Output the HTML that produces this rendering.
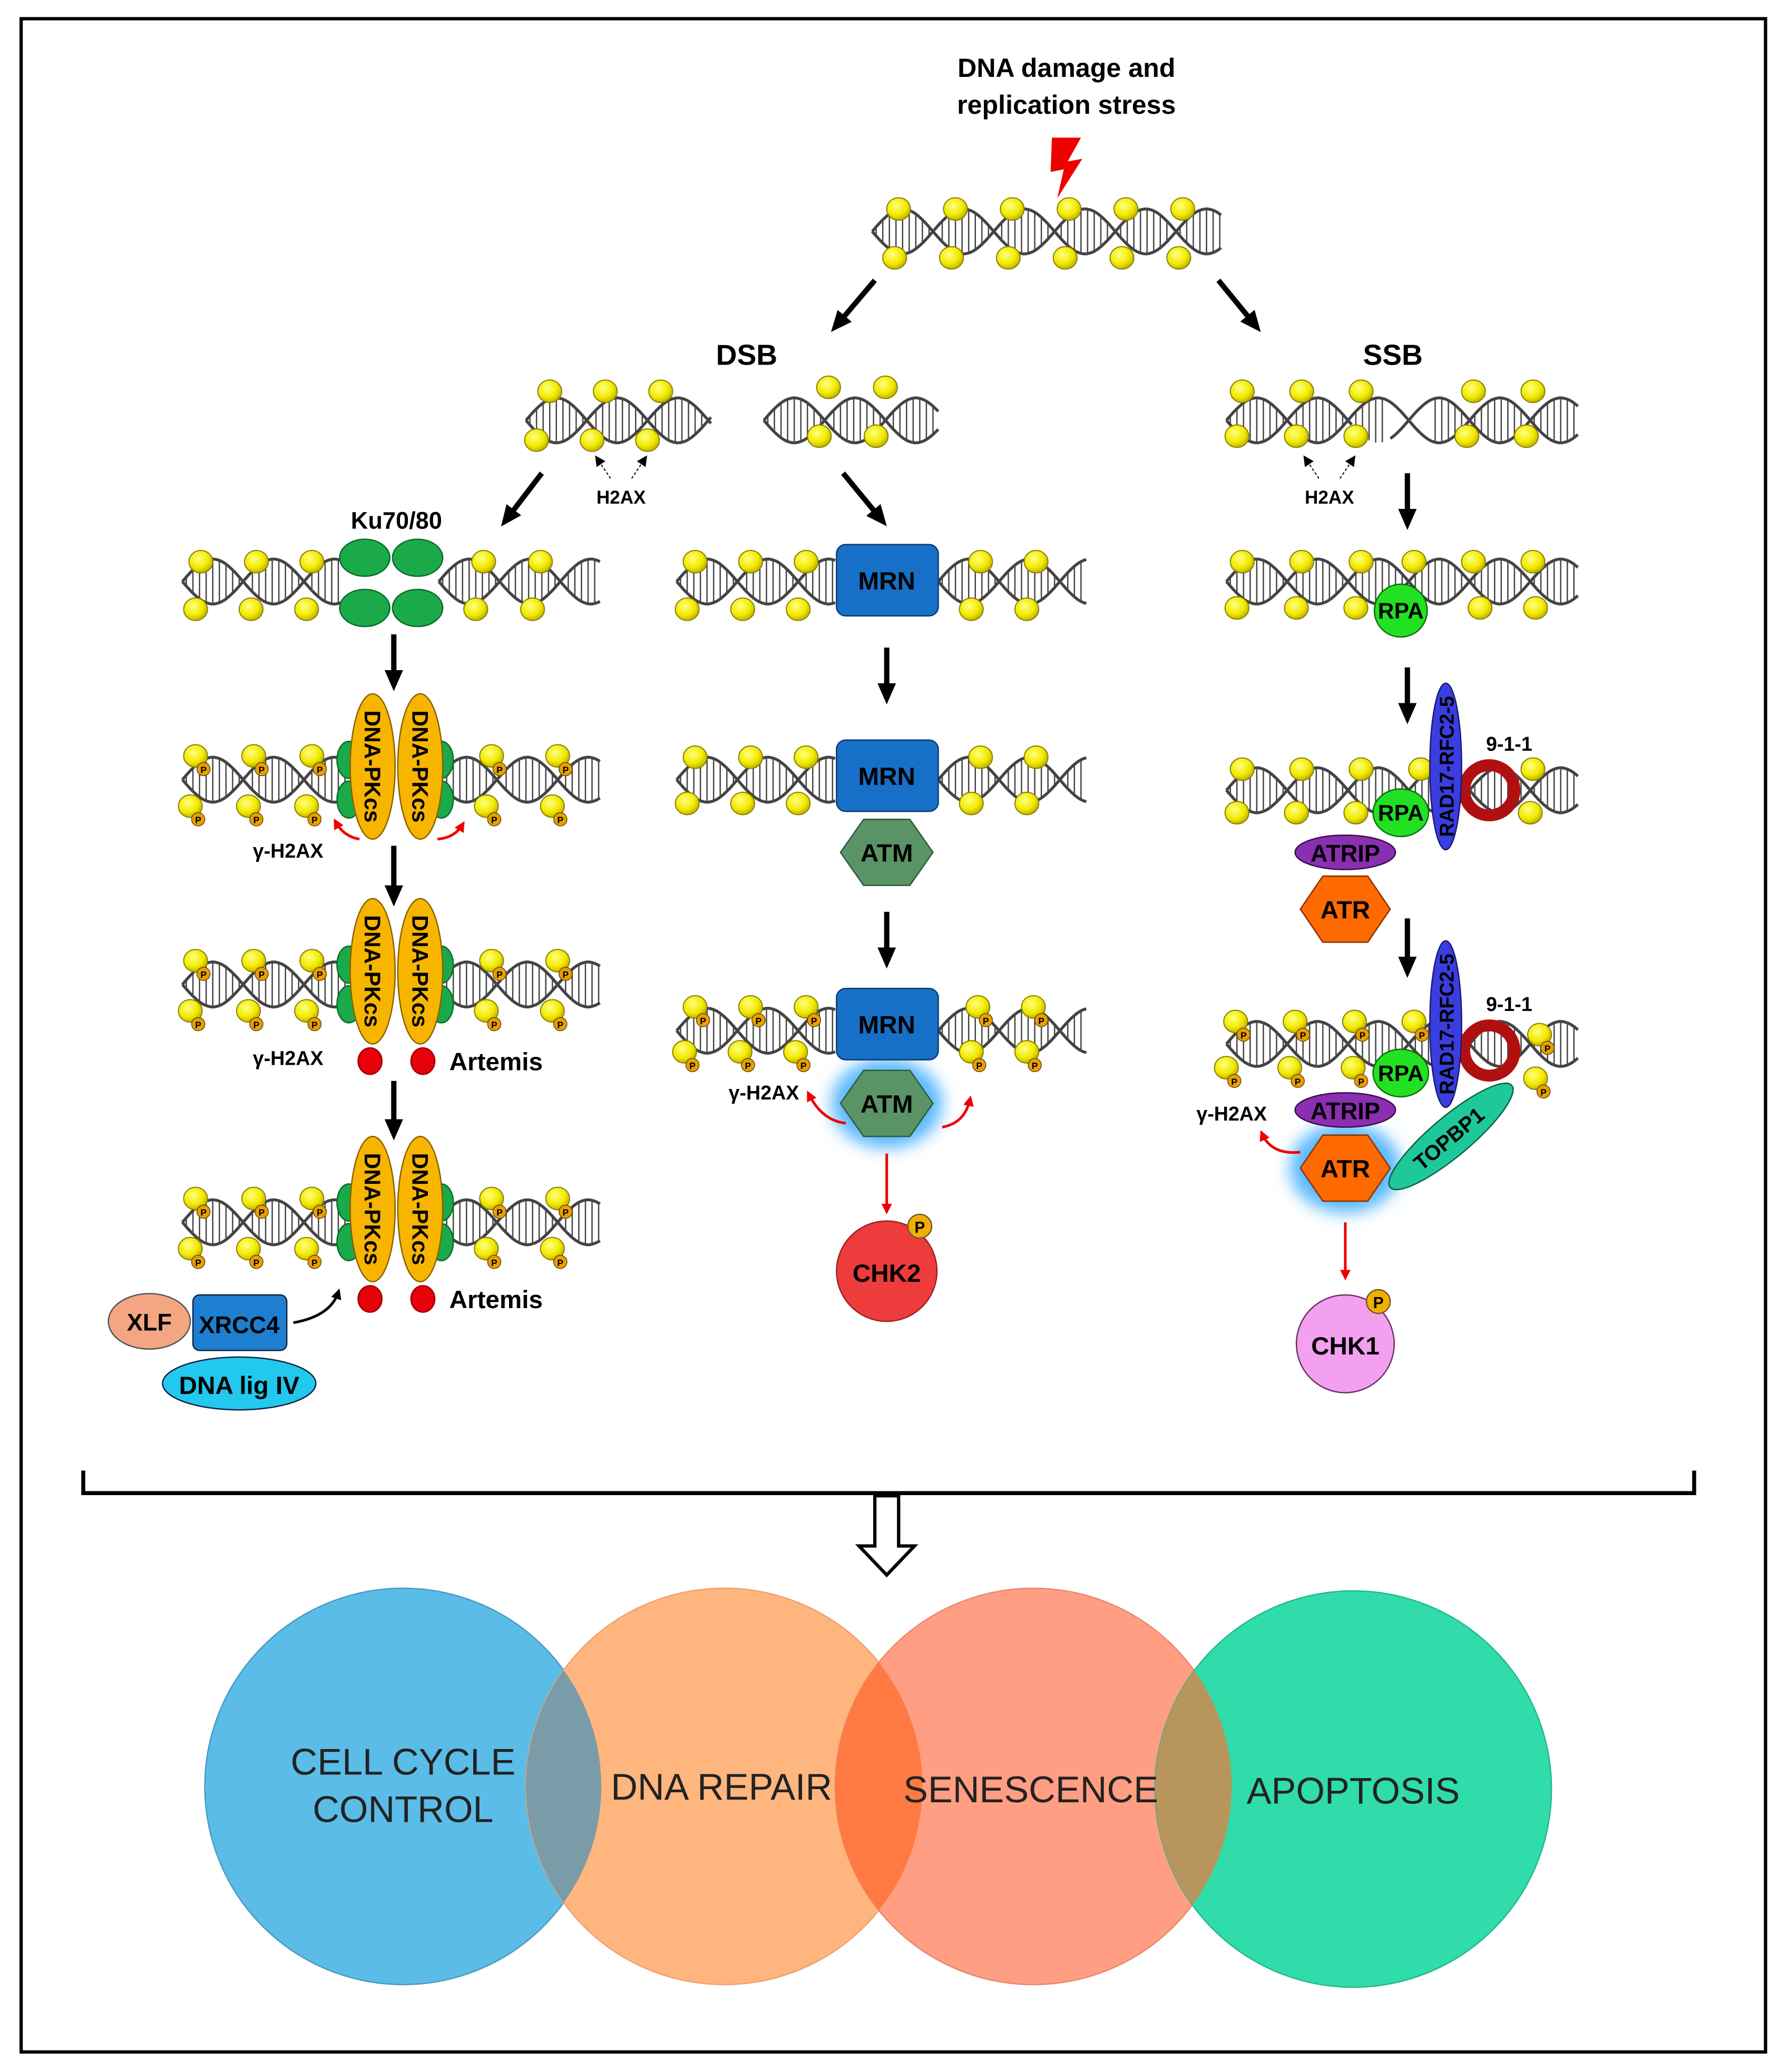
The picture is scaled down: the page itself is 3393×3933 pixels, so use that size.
<!DOCTYPE html>
<html><head><meta charset="utf-8"><style>
html,body{margin:0;padding:0;background:#fff}
svg{display:block}
text{font-family:"Liberation Sans",sans-serif}
.b{font-weight:bold}
</style></head><body>
<svg id="s" xmlns="http://www.w3.org/2000/svg" width="3393" height="3933" viewBox="0 0 1353 1568">
<defs>
<radialGradient id="yb" cx="0.4" cy="0.35" r="0.7"><stop offset="0" stop-color="#ffff80"/><stop offset="0.6" stop-color="#f2ea00"/><stop offset="1" stop-color="#b8a800"/></radialGradient>
<filter id="glow" x="-50%" y="-50%" width="200%" height="200%"><feGaussianBlur stdDeviation="6"/></filter>
<marker id="ab" markerWidth="8" markerHeight="8" refX="5" refY="4" orient="auto" markerUnits="userSpaceOnUse"><path d="M0,0 L8,4 L0,8 z" fill="#000"/></marker>
<marker id="ar" markerWidth="8" markerHeight="8" refX="5" refY="4" orient="auto" markerUnits="userSpaceOnUse"><path d="M0,0 L8,4 L0,8 z" fill="#e00"/></marker>
<marker id="abig" markerWidth="16" markerHeight="16" refX="8" refY="8" orient="auto" markerUnits="userSpaceOnUse"><path d="M0,1 L16,8 L0,15 z" fill="#000"/></marker>
<clipPath id="c1"><circle cx="305" cy="1352" r="150"/></clipPath>
<clipPath id="c2"><circle cx="548" cy="1352" r="150"/></clipPath>
<clipPath id="c3"><circle cx="782" cy="1352" r="150"/></clipPath>
</defs>
<rect x="16" y="14" width="1320" height="1539" fill="none" stroke="#000" stroke-width="2.5"/>
<g id="dna"></g>

<text x="807" y="58" text-anchor="middle" class="b" font-size="20">DNA damage and</text>
<text x="807" y="86" text-anchor="middle" class="b" font-size="20">replication stress</text>
<path d="M796,104 L818,104 L808,122 L819,120 L800,150 L805,128 L795,130 z" fill="#e00"/>

<g stroke="#000" stroke-width="4" marker-end="url(#abig)" fill="none">
<line x1="662" y1="212" x2="634" y2="245"/>
<line x1="922" y1="212" x2="949" y2="245"/>
<line x1="410" y1="358" x2="384" y2="392"/>
<line x1="638" y1="358" x2="666" y2="392"/>
<line x1="1065" y1="358" x2="1065" y2="393"/>
<line x1="298" y1="480" x2="298" y2="515"/>
<line x1="671" y1="490" x2="671" y2="525"/>
<line x1="1065" y1="505" x2="1065" y2="540"/>
<line x1="298" y1="640" x2="298" y2="678"/>
<line x1="671" y1="690" x2="671" y2="725"/>
<line x1="1065" y1="695" x2="1065" y2="732"/>
<line x1="298" y1="818" x2="298" y2="855"/>
</g>
<text x="565" y="276" text-anchor="middle" class="b" font-size="22">DSB</text>
<text x="1054" y="276" text-anchor="middle" class="b" font-size="22">SSB</text>
<text x="470" y="381" text-anchor="middle" class="b" font-size="14">H2AX</text>
<text x="1006" y="381" text-anchor="middle" class="b" font-size="14">H2AX</text>
<g stroke="#000" stroke-width="0.8" stroke-dasharray="2,1.5" marker-end="url(#ab)">
<line x1="462" y1="362" x2="452" y2="347"/><line x1="478" y1="362" x2="488" y2="347"/>
<line x1="998" y1="362" x2="988" y2="347"/><line x1="1014" y1="362" x2="1024" y2="347"/>
</g>

<!-- Ku -->
<text x="300" y="400" text-anchor="middle" class="b" font-size="18">Ku70/80</text>
<g fill="#1aaa4a" stroke="#0b6b2a" stroke-width="1">
<ellipse cx="276" cy="422" rx="19" ry="14"/><ellipse cx="316" cy="422" rx="19" ry="14"/>
<ellipse cx="276" cy="460" rx="19" ry="14"/><ellipse cx="316" cy="460" rx="19" ry="14"/>
</g>

<!-- DNA-PKcs rows -->
<g id="pk"></g>
<text x="218" y="649" text-anchor="middle" class="b" font-size="15">γ-H2AX</text>
<g fill="none" stroke="#e00" stroke-width="2" marker-end="url(#ar)">
<path d="M272,635 Q260,633 254,622"/><path d="M331,635 Q344,634 350,624"/>
</g>
<text x="218" y="806" text-anchor="middle" class="b" font-size="15">γ-H2AX</text>
<g fill="#e8000a" stroke="#900" stroke-width="1">
<ellipse cx="280" cy="803" rx="9" ry="10"/><ellipse cx="320" cy="803" rx="9" ry="10"/>
<ellipse cx="280" cy="983" rx="9" ry="10"/><ellipse cx="320" cy="983" rx="9" ry="10"/>
</g>
<text x="340" y="810" class="b" font-size="19">Artemis</text>
<text x="340" y="990" class="b" font-size="19">Artemis</text>
<ellipse cx="113" cy="1000" rx="31" ry="21" fill="#f4a582" stroke="#555"/>
<text x="113" y="1007" text-anchor="middle" class="b" font-size="18">XLF</text>
<rect x="146" y="980" width="71" height="42" rx="5" fill="#1e7fd0" stroke="#124"/>
<ellipse cx="181" cy="1047" rx="58" ry="20" fill="#22c8ee" stroke="#124"/>
<text x="181" y="1009" text-anchor="middle" class="b" font-size="18">XRCC4</text>
<text x="181" y="1055" text-anchor="middle" class="b" font-size="19">DNA lig IV</text>
<path d="M222,1001 Q250,996 256,978" fill="none" stroke="#000" stroke-width="2" marker-end="url(#ab)"/>

<!-- MRN -->
<g id="mrn"></g>
<text x="578" y="832" text-anchor="middle" class="b" font-size="15">γ-H2AX</text>
<g fill="none" stroke="#e00" stroke-width="2" marker-end="url(#ar)">
<path d="M640,850 Q622,848 612,828"/><path d="M713,853 Q730,850 734,832"/>
<line x1="671" y1="873" x2="671" y2="916"/>
<path d="M984,872 Q962,874 955,858"/>
<line x1="1018" y1="925" x2="1018" y2="966"/>
</g>
<circle cx="671" cy="962" r="38" fill="#ee3b3b" stroke="#922"/>
<text x="671" y="970" text-anchor="middle" class="b" font-size="19">CHK2</text>
<circle cx="696" cy="928" r="9" fill="#f0b000" stroke="#753"/><text x="696" y="933" text-anchor="middle" class="b" font-size="12">P</text>
<circle cx="1018" cy="1017" r="37" fill="#f4a0f0" stroke="#636"/>
<text x="1018" y="1025" text-anchor="middle" class="b" font-size="19">CHK1</text>
<circle cx="1043" cy="985" r="9" fill="#f0b000" stroke="#753"/><text x="1043" y="990" text-anchor="middle" class="b" font-size="12">P</text>

<!-- SSB proteins -->
<g id="ssb"></g>
<text x="932" y="848" text-anchor="middle" class="b" font-size="15">γ-H2AX</text>

<!-- bracket -->
<path d="M63,1113 L63,1130 L1282,1130 L1282,1113" fill="none" stroke="#000" stroke-width="3"/>
<path d="M662,1132 L680,1132 L680,1170 L692,1170 L671,1192 L650,1170 L662,1170 z" fill="#fff" stroke="#000" stroke-width="2.5"/>

<!-- Venn -->
<circle cx="305" cy="1352" r="150" fill="#5bbce8" stroke="#4a9ac0"/>
<circle cx="548" cy="1352" r="150" fill="#ffb57e" stroke="#f0a070"/>
<circle cx="782" cy="1352" r="150" fill="#ff9e82" stroke="#e88870"/>
<circle cx="1024" cy="1354" r="150" fill="#2fdcaa" stroke="#22b890"/>
<circle cx="548" cy="1352" r="150" fill="#7a9ba8" clip-path="url(#c1)"/>
<circle cx="782" cy="1352" r="150" fill="#ff7a42" clip-path="url(#c2)"/>
<circle cx="1024" cy="1354" r="150" fill="#b8955c" clip-path="url(#c3)"/>
<g font-size="28" fill="#222" text-anchor="middle">
<text x="305" y="1343">CELL CYCLE</text><text x="305" y="1379">CONTROL</text>
<text x="546" y="1362">DNA REPAIR</text>
<text x="780" y="1364">SENESCENCE</text>
<text x="1024" y="1365">APOPTOSIS</text>
</g>
</svg>
<script>
var NS="http://www.w3.org/2000/svg";
function el(p,t,a,txt){var e=document.createElementNS(NS,t);for(var k in a)e.setAttribute(k,a[k]);if(txt)e.textContent=txt;p.appendChild(e);return e;}
var D=document.getElementById('dna');
function dna(x1,x2,y,ph,skip){
  var A=17,P=92,g=el(D,'g',{});
  var d1='',d2='';
  for(var x=x1;x<=x2;x+=2){var s=Math.sin(2*Math.PI*(x-x1)/P);d1+=(x==x1?'M':'L')+x+','+(y-A*s).toFixed(1);d2+=(x==x1?'M':'L')+x+','+(y+A*s).toFixed(1);}
  for(var x=x1+3;x<x2;x+=5){var s=Math.sin(2*Math.PI*(x-x1)/P);if(Math.abs(s)<0.2)continue;if(skip&&x>skip[0]&&x<skip[1])continue;el(g,'line',{x1:x,y1:y-A*s,x2:x,y2:y+A*s,stroke:'#444','stroke-width':1});}
  el(g,'path',{d:d1,fill:'none',stroke:'#444','stroke-width':2.2});
  if(!skip)el(g,'path',{d:d2,fill:'none',stroke:'#444','stroke-width':2.2});
  else{el(g,'path',{d:d2,fill:'none',stroke:'#444','stroke-width':2.2,'stroke-dasharray':(skip[0]-x1)+','+(skip[1]-skip[0])+',999'});}
  return g;
}
function balls(list,ph){list.forEach(function(b){el(D,'ellipse',{cx:b[0],cy:b[1],rx:9,ry:8.5,fill:'url(#yb)',stroke:'#8a8000','stroke-width':0.8});if(ph){el(D,'circle',{cx:b[0]+6,cy:b[1]+10,r:5,fill:'#e8a000',stroke:'#640','stroke-width':0.6});el(D,'text',{x:b[0]+6,y:b[1]+13,'text-anchor':'middle','font-size':7,'font-weight':'bold'},'P');}});}
function row(x0,n,step,y,dy,ph){var r=[];for(var i=0;i<n;i++)r.push([x0+i*step,y]);balls(r,ph);}
// top
dna(660,925,175);row(680,6,43,158,0);row(677,6,43,195,0);
// DSB pieces
dna(398,538,318);row(416,3,42,296);row(406,3,42,333);
dna(578,710,318);row(627,2,43,293);row(620,2,43,330);
dna(928,1195,318,0,[1050,1085]);row(940,3,45,296);row(936,3,45,330);row(1115,2,45,296);row(1110,2,45,330);
// row1
dna(138,260,440);dna(332,455,440);row(152,3,42,425);row(148,3,42,461);row(366,2,43,425);row(360,2,43,461);
dna(512,632,440);dna(710,822,440);row(526,3,42,425);row(520,3,42,461);row(742,2,42,425);row(735,2,42,461);
dna(928,1195,440);row(940,3,45,425);row(936,3,45,460);row(1070,3,45,425);row(1120,2,42,460);
// row2 left (phos)
[590,745,925].forEach(function(y){dna(138,262,y);dna(330,455,y);row(148,3,44,y-18,0,1);row(144,3,44,y+20,0,1);row(372,2,50,y-18,0,1);row(368,2,50,y+20,0,1);});
// mid row2, row3
dna(512,632,590);dna(710,822,590);row(526,3,42,573);row(520,3,42,608);row(742,2,42,573);row(735,2,42,608);
dna(512,632,780);dna(710,822,780);row(526,3,42,762,0,1);row(518,3,42,796,0,1);row(740,2,42,762,0,1);row(735,2,42,796,0,1);
// right row2 row3
dna(928,1195,598);row(940,4,45,582);row(936,3,45,615);row(1160,1,0,582);row(1158,1,0,615);
dna(928,1195,790);row(935,4,45,773,0,1);row(928,3,48,808,0,1);row(1165,1,0,783,0,1);row(1162,1,0,816,0,1);

// DNA-PKcs
var PK=document.getElementById('pk');
[580,735,915].forEach(function(cy){
  [[264,cy-5],[264,cy+25],[334,cy-5],[334,cy+25]].forEach(function(c){el(PK,'ellipse',{cx:c[0],cy:c[1],rx:9,ry:14,fill:'#1aaa4a',stroke:'#0b6b2a'});});
  [282,318].forEach(function(cx){el(PK,'ellipse',{cx:cx,cy:cy,rx:17,ry:55,fill:'#f7b500',stroke:'#8a6000'});
   el(PK,'text',{x:0,y:0,transform:'translate('+(cx-6)+','+(cy)+') rotate(90)','text-anchor':'middle','font-size':17,'font-weight':'bold'},'DNA-PKcs');});
});
// MRN/ATM
var M=document.getElementById('mrn');
function hex(p,cx,cy,w,h,fill,stroke){var a=w/2,q=w/4,b=h/2;el(p,'polygon',{points:[cx-a,cy,cx-q,cy-b,cx+q,cy-b,cx+a,cy,cx+q,cy+b,cx-q,cy+b].join(' ').replace(/ /g,function(){return ' '}),fill:fill,stroke:stroke});}
function hexp(p,cx,cy,w,h,fill,stroke){var a=w/2,q=w/4,b=h/2;var pts=[[cx-a,cy],[cx-q,cy-b],[cx+q,cy-b],[cx+a,cy],[cx+q,cy+b],[cx-q,cy+b]].map(function(v){return v.join(',')}).join(' ');el(p,'polygon',{points:pts,fill:fill,stroke:stroke});}
el(M,'ellipse',{cx:671,cy:835,rx:42,ry:34,fill:'#5ab8ff',filter:'url(#glow)'});
el(M,'ellipse',{cx:1018,cy:884,rx:42,ry:34,fill:'#5ab8ff',filter:'url(#glow)'});
[[412],[560],[748]].forEach(function(r){el(M,'rect',{x:633,y:r[0],width:77,height:54,rx:7,fill:'#1670c8',stroke:'#0a3a70'});el(M,'text',{x:671,y:r[0]+34,'text-anchor':'middle','font-size':19,'font-weight':'bold'},'MRN');});
[645,835].forEach(function(cy){hexp(M,671,cy,70,50,'#5a9466','#2c5a34');el(M,'text',{x:671,y:cy+7,'text-anchor':'middle','font-size':19,'font-weight':'bold'},'ATM');});
// SSB
var S=document.getElementById('ssb');
el(S,'circle',{cx:1060,cy:462,r:20,fill:'#22e022',stroke:'#0a700a'});
el(S,'text',{x:1060,y:468,'text-anchor':'middle','font-size':17,'font-weight':'bold'},'RPA');
[[598,580,563,615,645,688],[795,775,760,812,840,884]].forEach(function(r){
  var dy=r[0],rc=r[1];
  el(S,'circle',{cx:1127,cy:dy,r:19,fill:'none',stroke:'#b01010','stroke-width':9});
  el(S,'text',{x:1142,y:r[2]+5,'text-anchor':'middle','font-size':15,'font-weight':'bold'},'9-1-1');
  el(S,'ellipse',{cx:1094,cy:rc,rx:12,ry:63,fill:'#3a3ee0',stroke:'#1a1a70'});
  el(S,'text',{x:0,y:0,transform:'translate(1100,'+rc+') rotate(-90)','text-anchor':'middle','font-size':15,'font-weight':'bold'},'RAD17-RFC2-5');
  el(S,'ellipse',{cx:1060,cy:r[3],rx:21,ry:18,fill:'#22e022',stroke:'#0a700a'});
  el(S,'text',{x:1060,y:r[3]+6,'text-anchor':'middle','font-size':17,'font-weight':'bold'},'RPA');
});
el(S,'ellipse',{cx:0,cy:0,rx:60,ry:15,transform:'translate(1098,860) rotate(-40)',fill:'#1ec89a',stroke:'#0a6040'});
el(S,'text',{x:0,y:0,transform:'translate(1100,866) rotate(-40)','text-anchor':'middle','font-size':16,'font-weight':'bold'},'TOPBP1');
[[645,688],[840,884]].forEach(function(r){
  hexp(S,1018,r[1],68,50,'#ff6a00','#8a3000');
  el(S,'text',{x:1018,y:r[1]+7,'text-anchor':'middle','font-size':19,'font-weight':'bold'},'ATR');
  el(S,'ellipse',{cx:1018,cy:r[0],rx:38,ry:13,fill:'#8a2fb0',stroke:'#3a0a50'});
  el(S,'text',{x:1018,y:r[0]+7,'text-anchor':'middle','font-size':18,'font-weight':'bold'},'ATRIP');
});
</script>
</body></html>
